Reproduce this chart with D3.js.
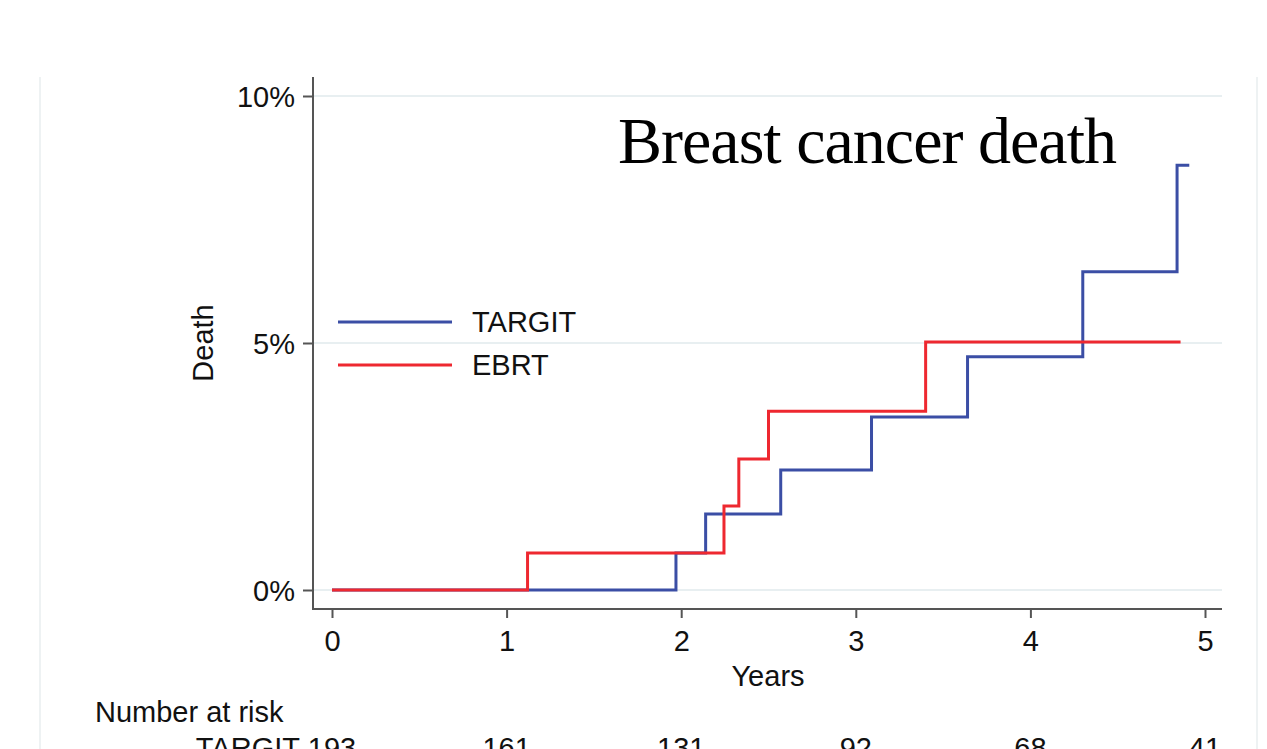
<!DOCTYPE html>
<html>
<head>
<meta charset="utf-8">
<script src="https://cdn.jsdelivr.net/npm/d3@7"></script>
<style>
  body { margin: 0; background: #fff; }
  svg { display: block; font-family: "Liberation Sans", Arial, sans-serif; }
</style>
</head>
<body>
<div id="main-chart"></div>
<script>
// cumulative incidence, %
let targitTimes = [0, 1.97, 2.14, 2.57, 3.09, 3.64, 4.30, 4.84, 4.91];
let targitDeath = [0, 0.75, 1.54, 2.43, 3.50, 4.72, 6.44, 8.60, 8.60];
let ebrtTimes = [0, 1.12, 2.245, 2.33, 2.50, 3.40, 4.86];
let ebrtDeath = [0, 0.75, 1.70, 2.65, 3.62, 5.02, 5.02];

let yearTicks = [0, 1, 2, 3, 4, 5];
let pctTicks = [0, 5, 10];
let targitRisk = [193, 161, 131, 92, 68, 41];

let width = 1267, height = 749;

let blue = '#3b4ea5', red = '#ee2830';

let svg = d3.select('#main-chart')
  .append('svg')
  .attr('width', width)
  .attr('height', height);

//scales
let x = d3.scaleLinear().domain([0, 5]).range([332, 1205]);
let y = d3.scaleLinear().domain([0, 10]).range([590, 96]);

let plotLeft = 313, plotRight = 1222, plotTop = 77, plotBottom = 609;

//faint outer frame edges
svg.append('g')
  .selectAll('line')
  .data([40, 1257])
  .join('line')
  .attr('x1', d => d).attr('x2', d => d)
  .attr('y1', plotTop).attr('y2', height)
  .attr('stroke', '#eef2f3')
  .attr('stroke-width', 2);

//gridlines
svg.append('g')
  .selectAll('line')
  .data(pctTicks)
  .join('line')
  .attr('x1', plotLeft).attr('x2', plotRight)
  .attr('y1', d => y(d)).attr('y2', d => y(d))
  .attr('stroke', '#e8eff1')
  .attr('stroke-width', 2);

//y axis
let yAxis = svg.append('g')
  .attr('transform', `translate(${plotLeft},0)`)
  .call(d3.axisLeft(y).tickValues(pctTicks).tickFormat(d => d + '%').tickSize(10).tickPadding(8));
yAxis.select('.domain').remove();
yAxis.selectAll('.tick line').attr('stroke', '#555').attr('stroke-width', 2);
yAxis.selectAll('.tick text')
  .attr('fill', '#111')
  .style('font-size', '29px')
  .attr('dy', '0.36em')
  .attr('font-family', '"Liberation Sans", Arial, sans-serif');

svg.append('line')
  .attr('x1', plotLeft).attr('x2', plotLeft)
  .attr('y1', plotTop).attr('y2', plotBottom + 1)
  .attr('stroke', '#555').attr('stroke-width', 2);

//x axis
let xAxis = svg.append('g')
  .attr('transform', `translate(0,${plotBottom})`)
  .call(d3.axisBottom(x).tickValues(yearTicks).tickFormat(d3.format('d')).tickSize(9).tickPadding(12));
xAxis.select('.domain').remove();
xAxis.selectAll('.tick line').attr('stroke', '#555').attr('stroke-width', 2);
xAxis.selectAll('.tick text')
  .attr('fill', '#111')
  .style('font-size', '29px')
  .attr('font-family', '"Liberation Sans", Arial, sans-serif');

svg.append('line')
  .attr('x1', plotLeft).attr('x2', plotRight)
  .attr('y1', plotBottom).attr('y2', plotBottom)
  .attr('stroke', '#555').attr('stroke-width', 2);

//axis titles
svg.append('text')
  .attr('x', 768).attr('y', 686)
  .attr('text-anchor', 'middle')
  .style('font-size', '29px')
  .attr('fill', '#111')
  .text('Years');

svg.append('text')
  .attr('transform', `translate(213,${y(5)}) rotate(-90)`)
  .attr('text-anchor', 'middle')
  .style('font-size', '29px')
  .attr('fill', '#111')
  .text('Death');

//step curves
let step = d3.line()
  .x(d => x(d[0]))
  .y(d => y(d[1]))
  .curve(d3.curveStepAfter);

let series = [
  {name: 'TARGIT', color: blue, pts: d3.zip(targitTimes, targitDeath)},
  {name: 'EBRT', color: red, pts: d3.zip(ebrtTimes, ebrtDeath)}
];

svg.append('g')
  .selectAll('path')
  .data(series)
  .join('path')
  .attr('d', d => step(d.pts))
  .attr('fill', 'none')
  .attr('stroke', d => d.color)
  .attr('stroke-width', 3);

//legend
let legend = svg.append('g')
  .selectAll('g')
  .data(series)
  .join('g')
  .attr('transform', (d, i) => `translate(338,${322 + i * 43})`);
legend.append('line')
  .attr('x1', 0).attr('x2', 114)
  .attr('stroke', d => d.color)
  .attr('stroke-width', 3);
legend.append('text')
  .attr('x', 134).attr('dy', '0.36em')
  .style('font-size', '29px')
  .attr('fill', '#111')
  .text(d => d.name);

//title
svg.append('text')
  .attr('x', 618).attr('y', 163)
  .attr('font-family', '"Liberation Serif", "Times New Roman", serif')
  .style('font-size', '66px')
  .attr('textLength', 499)
  .attr('lengthAdjust', 'spacing')
  .attr('fill', '#000')
  .text('Breast cancer death');

//number at risk table
svg.append('text')
  .attr('x', 95).attr('y', 722)
  .style('font-size', '29px')
  .attr('fill', '#111')
  .text('Number at risk');

svg.append('text')
  .attr('x', 300).attr('y', 758)
  .attr('text-anchor', 'end')
  .style('font-size', '29px')
  .attr('fill', '#111')
  .text('TARGIT');

svg.append('g')
  .selectAll('text')
  .data(d3.zip(yearTicks, targitRisk))
  .join('text')
  .attr('x', d => x(d[0])).attr('y', 758)
  .attr('text-anchor', 'middle')
  .style('font-size', '29px')
  .attr('fill', '#111')
  .text(d => d[1]);
</script>
</body>
</html>
